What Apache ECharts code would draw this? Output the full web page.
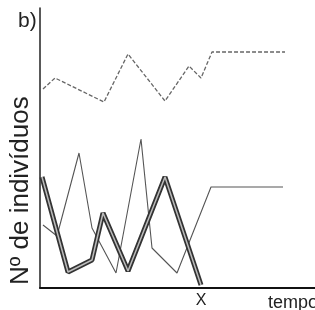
<!DOCTYPE html>
<html><head><meta charset="utf-8">
<script src="https://cdn.jsdelivr.net/npm/echarts@6/dist/echarts.min.js"></script>
<style>html,body{margin:0;padding:0;background:#fff}#c{width:315px;height:310px}</style>
</head><body><div id="c"></div>
<script>
// Data (x = time units, y = number of individuals, arbitrary units)
const dashedX = [3, 15, 64, 88, 125, 149, 161, 172, 245];
const dashedY = [199, 210, 186, 234, 187, 222, 210, 236, 236];
const thinX = [3, 17, 39, 52, 76, 101, 112, 137, 171, 243];
const thinY = [63, 52, 135, 60, 15, 149, 40, 15, 101, 101];
const thickX = [2, 28, 52, 63, 88, 125, 161];
const thickY = [111, 16, 28, 75, 17, 111, 3];
const xTickValues = [161];
const xTickLabels = ['X'];
const panelLabel = 'b)';
const yName = 'Nº de indivíduos';
const xName = 'tempo';

const zip = (xs, ys) => xs.map((x, i) => [x, ys[i]]);
const font = 'Liberation Sans, Arial, sans-serif';
const chart = echarts.init(document.getElementById('c'), null, {renderer: 'canvas'});
chart.setOption({
  animation: false,
  backgroundColor: '#fff',
  title: {text: panelLabel, left: 13, top: 6, textStyle: {fontFamily: font, fontSize: 21, fontWeight: 'normal', color: '#222'}},
  grid: {left: 40, right: 0, top: 8, bottom: 22},
  xAxis: {
    type: 'value', min: 0, max: 275,
    axisLine: {show: true, lineStyle: {color: '#111', width: 2}},
    axisTick: {show: false}, splitLine: {show: false},
    axisLabel: {customValues: xTickValues, formatter: (v) => xTickLabels[xTickValues.indexOf(v)] || '',
      fontFamily: font, fontSize: 16, color: '#222', margin: 5, showMaxLabel: true, showMinLabel: true}
  },
  yAxis: {
    type: 'value', min: 0, max: 280,
    axisLine: {show: true, lineStyle: {color: '#222', width: 1.5}},
    axisTick: {show: false}, splitLine: {show: false}, axisLabel: {show: false}
  },
  graphic: [
    {type: 'text', x: 8, y: 285, rotation: Math.PI / 2,
      style: {text: yName, font: '26px ' + font, fill: '#222', textAlign: 'left', textVerticalAlign: 'top'}},
    {type: 'text', x: 268, y: 294,
      style: {text: xName, font: '18px ' + font, fill: '#222', textAlign: 'left', textVerticalAlign: 'top'}}
  ],
  series: [
    {type: 'line', data: zip(dashedX, dashedY), symbol: 'none',
      lineStyle: {color: '#666', width: 1.3, type: [4, 2]}},
    {type: 'line', data: zip(thinX, thinY), symbol: 'none',
      lineStyle: {color: '#555', width: 1.1}},
    {type: 'line', data: zip(thickX, thickY), symbol: 'none',
      lineStyle: {color: '#333', width: 5}},
    {type: 'line', data: zip(thickX, thickY), symbol: 'none',
      lineStyle: {color: '#bbb', width: 1.5}}
  ]
});
</script></body></html>
